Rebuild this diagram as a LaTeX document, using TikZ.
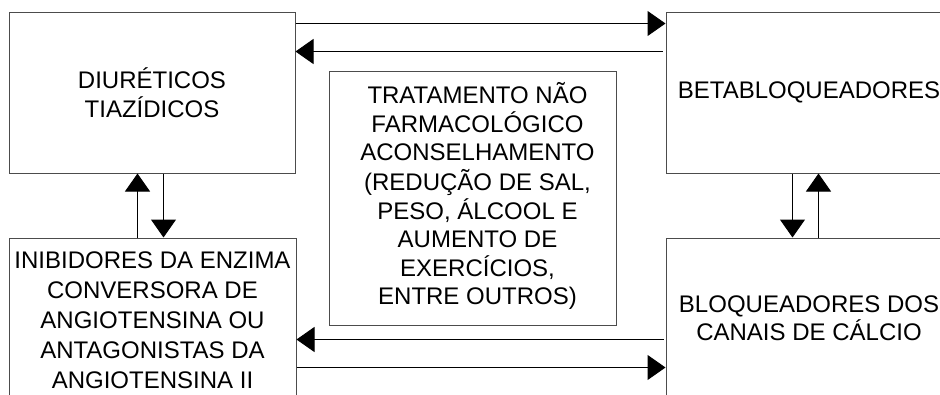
\documentclass[tikz,border=0pt]{standalone}
\usepackage{fontspec}
\setmainfont{Liberation Sans}
\usetikzlibrary{arrows.meta}
\begin{document}
\begin{tikzpicture}[x=1pt,y=-1pt,
  box/.style={draw=black!70, line width=1pt, inner sep=0pt, align=center,
    font=\fontsize{24}{29}\selectfont},
  conn/.style={draw=black, line width=1pt},
  tip/.style={-{Triangle[length=18pt,width=25pt]}}]
\useasboundingbox (0,0) rectangle (940,394);
\fill[white] (0,0) rectangle (940,394);
\clip (0,0) rectangle (940,394);
\node[box, minimum width=286pt, minimum height=161pt] (b1) at (152,92.5) {DIURÉTICOS\\TIAZÍDICOS};
\node[box, minimum width=286pt, minimum height=161pt] (b2) at (809,92.5) {BETABLOQUEADORES};
\node[box, minimum width=287pt, minimum height=164pt, font=\fontsize{24}{30}\selectfont] (b3) at (152.5,320) {INIBIDORES DA ENZIMA\\CONVERSORA DE\\ANGIOTENSINA OU\\ANTAGONISTAS DA\\ANGIOTENSINA II};
\node[box, minimum width=286pt, minimum height=160pt, font=\fontsize{24}{28}\selectfont] (b4) at (809,318) {BLOQUEADORES DOS\\CANAIS DE CÁLCIO};
\node[box, minimum width=287pt, minimum height=254pt, font=\fontsize{24}{28}\selectfont] (mid) at (472.5,198) {\hspace*{10pt}\begin{tabular}{@{}c@{}}TRATAMENTO NÃO\\FARMACOLÓGICO\\ACONSELHAMENTO\\(REDUÇÃO DE SAL,\\PESO, ÁLCOOL E\\AUMENTO DE\\EXERCÍCIOS,\\ENTRE OUTROS)\end{tabular}};
% top connectors
\draw[conn,tip] ([yshift=-12pt]b1.north east) -- ([yshift=-12pt]b2.north west);
\draw[conn,tip] ([xshift=-3pt,yshift=-40pt]b2.north west) -- ([yshift=-40pt]b1.north east);
% left vertical connectors
\draw[conn,tip] ([xshift=129pt]b3.north west) -- ([xshift=129pt]b1.south west);
\draw[conn,tip] ([xshift=155pt]b1.south west) -- ([xshift=155pt]b3.north west);
% right vertical connectors
\draw[conn,tip] ([xshift=127pt]b2.south west) -- ([xshift=127pt]b4.north west);
\draw[conn,tip] ([xshift=153pt]b4.north west) -- ([xshift=153pt]b2.south west);
% bottom connectors
\draw[conn,tip] ([xshift=-2pt,yshift=-102pt]b4.north west) -- ([yshift=-102pt]b3.north east);
\draw[conn,tip] ([yshift=-130pt]b3.north east) -- ([yshift=-130pt]b4.north west);
\end{tikzpicture}
\end{document}
